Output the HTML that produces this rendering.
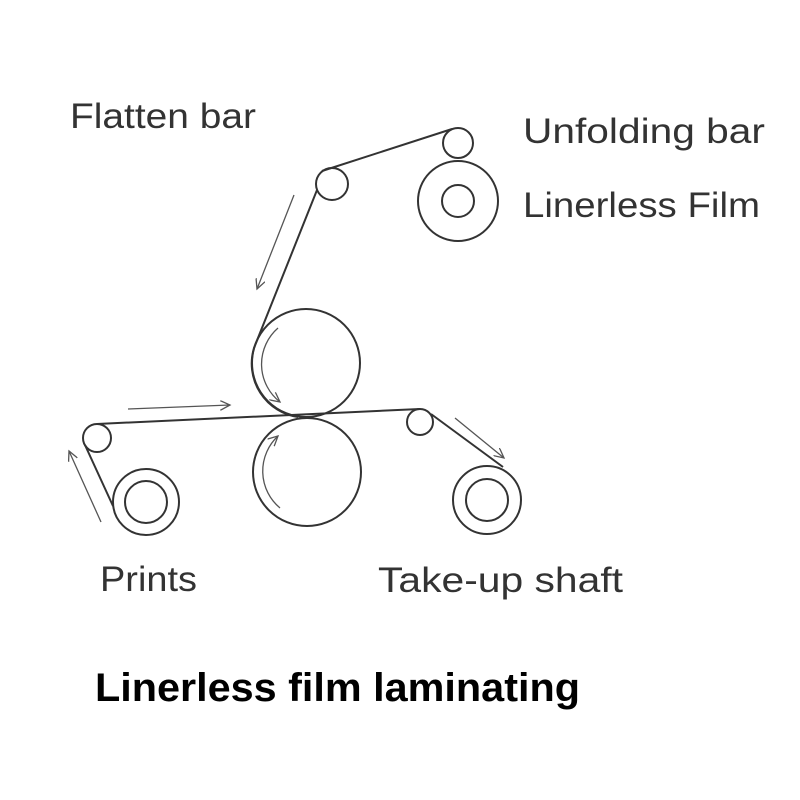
<!DOCTYPE html>
<html><head><meta charset="utf-8"><style>html,body{margin:0;padding:0;background:#fff}svg{display:block}</style></head>
<body>
<svg width="800" height="800" viewBox="0 0 800 800" xmlns="http://www.w3.org/2000/svg">
<defs>
<marker id="a" markerWidth="12" markerHeight="10" refX="10" refY="5" orient="auto" markerUnits="userSpaceOnUse">
<path d="M0,0 L10,5 L0,10" fill="none" stroke="#555" stroke-width="1.3"/>
</marker>
</defs>
<g fill="none" stroke="#333" stroke-width="2">
<circle cx="458" cy="143" r="15"/>
<circle cx="458" cy="201" r="40"/>
<circle cx="458" cy="201" r="16"/>
<circle cx="332" cy="184" r="16"/>
<circle cx="306" cy="363" r="54"/>
<circle cx="307" cy="472" r="54"/>
<circle cx="97" cy="438" r="14"/>
<circle cx="146" cy="502" r="33"/>
<circle cx="146" cy="502" r="21"/>
<circle cx="420" cy="422" r="13"/>
<circle cx="487" cy="500" r="34"/>
<circle cx="487" cy="500" r="21"/>
<path d="M452,129 L322,171"/>
<path d="M317,190 L254,348 A54,54 0 0 0 298,417"/>
<path d="M97,424 L420,409"/>
<path d="M431,414 L503,467"/>
<path d="M85,445 L113,506"/>
</g>
<g fill="none" stroke="#555" stroke-width="1.3">
<path d="M294,195 L257,289" marker-end="url(#a)"/>
<path d="M128,409 L230,405" marker-end="url(#a)"/>
<path d="M101,522 L69,451" marker-end="url(#a)"/>
<path d="M455,418 L504,458" marker-end="url(#a)"/>
<path d="M278,328 A48,48 0 0 0 280,402" marker-end="url(#a)"/>
<path d="M280,508 A48,48 0 0 1 278,436" marker-end="url(#a)"/>
</g>
<g font-family="Liberation Sans, sans-serif" font-size="35" fill="#333">
<text x="70" y="128" textLength="186" lengthAdjust="spacingAndGlyphs">Flatten bar</text>
<text x="523" y="143" textLength="242" lengthAdjust="spacingAndGlyphs">Unfolding bar</text>
<text x="523" y="217" textLength="237" lengthAdjust="spacingAndGlyphs">Linerless Film</text>
<text x="100" y="591" textLength="97" lengthAdjust="spacingAndGlyphs">Prints</text>
<text x="378" y="592" textLength="245" lengthAdjust="spacingAndGlyphs">Take-up shaft</text>
</g>
<text x="95" y="701" font-family="Liberation Sans, sans-serif" font-weight="bold" font-size="40" fill="#000" textLength="485" lengthAdjust="spacingAndGlyphs">Linerless film laminating</text>
</svg>
</body></html>
